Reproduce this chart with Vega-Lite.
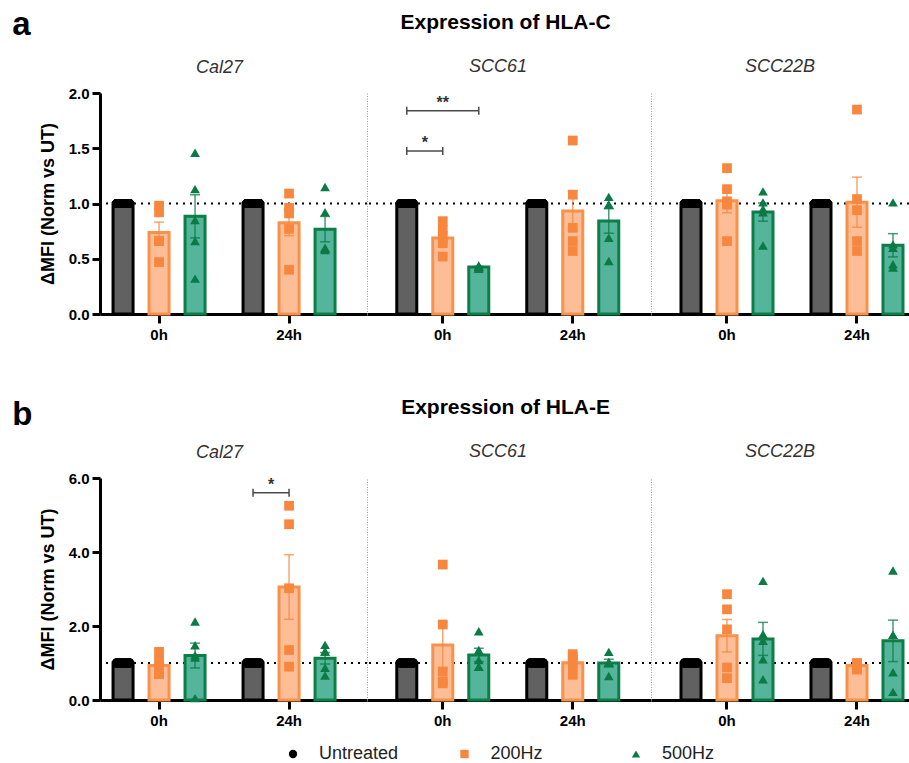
{
"$schema": "https://vega.github.io/schema/vega-lite/v6.json",
"padding": {"left": 12, "top": 9, "right": 0, "bottom": 0},
"datasets": {
"obs": [
{"marker":"HLA-C","cell":"Cal27","time":"0h","treatment":"Untreated","value":1},{"marker":"HLA-C","cell":"Cal27","time":"0h","treatment":"Untreated","value":1},{"marker":"HLA-C","cell":"Cal27","time":"0h","treatment":"Untreated","value":1},{"marker":"HLA-C","cell":"Cal27","time":"0h","treatment":"Untreated","value":1},{"marker":"HLA-C","cell":"Cal27","time":"0h","treatment":"Untreated","value":1},
{"marker":"HLA-C","cell":"Cal27","time":"0h","treatment":"200Hz","value":0.98},{"marker":"HLA-C","cell":"Cal27","time":"0h","treatment":"200Hz","value":0.92},{"marker":"HLA-C","cell":"Cal27","time":"0h","treatment":"200Hz","value":0.66},{"marker":"HLA-C","cell":"Cal27","time":"0h","treatment":"200Hz","value":0.66},{"marker":"HLA-C","cell":"Cal27","time":"0h","treatment":"200Hz","value":0.47},
{"marker":"HLA-C","cell":"Cal27","time":"0h","treatment":"500Hz","value":1.46},{"marker":"HLA-C","cell":"Cal27","time":"0h","treatment":"500Hz","value":1.13},{"marker":"HLA-C","cell":"Cal27","time":"0h","treatment":"500Hz","value":0.85},{"marker":"HLA-C","cell":"Cal27","time":"0h","treatment":"500Hz","value":0.66},{"marker":"HLA-C","cell":"Cal27","time":"0h","treatment":"500Hz","value":0.32},
{"marker":"HLA-C","cell":"Cal27","time":"24h","treatment":"Untreated","value":1},{"marker":"HLA-C","cell":"Cal27","time":"24h","treatment":"Untreated","value":1},{"marker":"HLA-C","cell":"Cal27","time":"24h","treatment":"Untreated","value":1},{"marker":"HLA-C","cell":"Cal27","time":"24h","treatment":"Untreated","value":1},{"marker":"HLA-C","cell":"Cal27","time":"24h","treatment":"Untreated","value":1},
{"marker":"HLA-C","cell":"Cal27","time":"24h","treatment":"200Hz","value":1.09},{"marker":"HLA-C","cell":"Cal27","time":"24h","treatment":"200Hz","value":0.96},{"marker":"HLA-C","cell":"Cal27","time":"24h","treatment":"200Hz","value":0.91},{"marker":"HLA-C","cell":"Cal27","time":"24h","treatment":"200Hz","value":0.77},{"marker":"HLA-C","cell":"Cal27","time":"24h","treatment":"200Hz","value":0.40},
{"marker":"HLA-C","cell":"Cal27","time":"24h","treatment":"500Hz","value":1.15},{"marker":"HLA-C","cell":"Cal27","time":"24h","treatment":"500Hz","value":0.92},{"marker":"HLA-C","cell":"Cal27","time":"24h","treatment":"500Hz","value":0.60},{"marker":"HLA-C","cell":"Cal27","time":"24h","treatment":"500Hz","value":0.59},{"marker":"HLA-C","cell":"Cal27","time":"24h","treatment":"500Hz","value":0.58},
{"marker":"HLA-C","cell":"SCC61","time":"0h","treatment":"Untreated","value":1},{"marker":"HLA-C","cell":"SCC61","time":"0h","treatment":"Untreated","value":1},{"marker":"HLA-C","cell":"SCC61","time":"0h","treatment":"Untreated","value":1},{"marker":"HLA-C","cell":"SCC61","time":"0h","treatment":"Untreated","value":1},{"marker":"HLA-C","cell":"SCC61","time":"0h","treatment":"Untreated","value":1},
{"marker":"HLA-C","cell":"SCC61","time":"0h","treatment":"200Hz","value":0.84},{"marker":"HLA-C","cell":"SCC61","time":"0h","treatment":"200Hz","value":0.76},{"marker":"HLA-C","cell":"SCC61","time":"0h","treatment":"200Hz","value":0.68},{"marker":"HLA-C","cell":"SCC61","time":"0h","treatment":"200Hz","value":0.64},{"marker":"HLA-C","cell":"SCC61","time":"0h","treatment":"200Hz","value":0.52},
{"marker":"HLA-C","cell":"SCC61","time":"0h","treatment":"500Hz","value":0.44},{"marker":"HLA-C","cell":"SCC61","time":"0h","treatment":"500Hz","value":0.43},{"marker":"HLA-C","cell":"SCC61","time":"0h","treatment":"500Hz","value":0.43},{"marker":"HLA-C","cell":"SCC61","time":"0h","treatment":"500Hz","value":0.42},{"marker":"HLA-C","cell":"SCC61","time":"0h","treatment":"500Hz","value":0.41},
{"marker":"HLA-C","cell":"SCC61","time":"24h","treatment":"Untreated","value":1},{"marker":"HLA-C","cell":"SCC61","time":"24h","treatment":"Untreated","value":1},{"marker":"HLA-C","cell":"SCC61","time":"24h","treatment":"Untreated","value":1},{"marker":"HLA-C","cell":"SCC61","time":"24h","treatment":"Untreated","value":1},{"marker":"HLA-C","cell":"SCC61","time":"24h","treatment":"Untreated","value":1},
{"marker":"HLA-C","cell":"SCC61","time":"24h","treatment":"200Hz","value":1.57},{"marker":"HLA-C","cell":"SCC61","time":"24h","treatment":"200Hz","value":1.08},{"marker":"HLA-C","cell":"SCC61","time":"24h","treatment":"200Hz","value":0.78},{"marker":"HLA-C","cell":"SCC61","time":"24h","treatment":"200Hz","value":0.66},{"marker":"HLA-C","cell":"SCC61","time":"24h","treatment":"200Hz","value":0.57},
{"marker":"HLA-C","cell":"SCC61","time":"24h","treatment":"500Hz","value":1.06},{"marker":"HLA-C","cell":"SCC61","time":"24h","treatment":"500Hz","value":0.99},{"marker":"HLA-C","cell":"SCC61","time":"24h","treatment":"500Hz","value":0.99},{"marker":"HLA-C","cell":"SCC61","time":"24h","treatment":"500Hz","value":0.69},{"marker":"HLA-C","cell":"SCC61","time":"24h","treatment":"500Hz","value":0.48},
{"marker":"HLA-C","cell":"SCC22B","time":"0h","treatment":"Untreated","value":1},{"marker":"HLA-C","cell":"SCC22B","time":"0h","treatment":"Untreated","value":1},{"marker":"HLA-C","cell":"SCC22B","time":"0h","treatment":"Untreated","value":1},{"marker":"HLA-C","cell":"SCC22B","time":"0h","treatment":"Untreated","value":1},{"marker":"HLA-C","cell":"SCC22B","time":"0h","treatment":"Untreated","value":1},
{"marker":"HLA-C","cell":"SCC22B","time":"0h","treatment":"200Hz","value":1.32},{"marker":"HLA-C","cell":"SCC22B","time":"0h","treatment":"200Hz","value":1.13},{"marker":"HLA-C","cell":"SCC22B","time":"0h","treatment":"200Hz","value":1.02},{"marker":"HLA-C","cell":"SCC22B","time":"0h","treatment":"200Hz","value":0.99},{"marker":"HLA-C","cell":"SCC22B","time":"0h","treatment":"200Hz","value":0.66},
{"marker":"HLA-C","cell":"SCC22B","time":"0h","treatment":"500Hz","value":1.11},{"marker":"HLA-C","cell":"SCC22B","time":"0h","treatment":"500Hz","value":1.01},{"marker":"HLA-C","cell":"SCC22B","time":"0h","treatment":"500Hz","value":0.95},{"marker":"HLA-C","cell":"SCC22B","time":"0h","treatment":"500Hz","value":0.92},{"marker":"HLA-C","cell":"SCC22B","time":"0h","treatment":"500Hz","value":0.62},
{"marker":"HLA-C","cell":"SCC22B","time":"24h","treatment":"Untreated","value":1},{"marker":"HLA-C","cell":"SCC22B","time":"24h","treatment":"Untreated","value":1},{"marker":"HLA-C","cell":"SCC22B","time":"24h","treatment":"Untreated","value":1},{"marker":"HLA-C","cell":"SCC22B","time":"24h","treatment":"Untreated","value":1},{"marker":"HLA-C","cell":"SCC22B","time":"24h","treatment":"Untreated","value":1},
{"marker":"HLA-C","cell":"SCC22B","time":"24h","treatment":"200Hz","value":1.85},{"marker":"HLA-C","cell":"SCC22B","time":"24h","treatment":"200Hz","value":1.04},{"marker":"HLA-C","cell":"SCC22B","time":"24h","treatment":"200Hz","value":0.94},{"marker":"HLA-C","cell":"SCC22B","time":"24h","treatment":"200Hz","value":0.66},{"marker":"HLA-C","cell":"SCC22B","time":"24h","treatment":"200Hz","value":0.57},
{"marker":"HLA-C","cell":"SCC22B","time":"24h","treatment":"500Hz","value":1.01},{"marker":"HLA-C","cell":"SCC22B","time":"24h","treatment":"500Hz","value":0.63},{"marker":"HLA-C","cell":"SCC22B","time":"24h","treatment":"500Hz","value":0.60},{"marker":"HLA-C","cell":"SCC22B","time":"24h","treatment":"500Hz","value":0.45},{"marker":"HLA-C","cell":"SCC22B","time":"24h","treatment":"500Hz","value":0.42},
{"marker":"HLA-E","cell":"Cal27","time":"0h","treatment":"Untreated","value":1},{"marker":"HLA-E","cell":"Cal27","time":"0h","treatment":"Untreated","value":1},{"marker":"HLA-E","cell":"Cal27","time":"0h","treatment":"Untreated","value":1},{"marker":"HLA-E","cell":"Cal27","time":"0h","treatment":"Untreated","value":1},{"marker":"HLA-E","cell":"Cal27","time":"0h","treatment":"Untreated","value":1},
{"marker":"HLA-E","cell":"Cal27","time":"0h","treatment":"200Hz","value":1.30},{"marker":"HLA-E","cell":"Cal27","time":"0h","treatment":"200Hz","value":1.08},{"marker":"HLA-E","cell":"Cal27","time":"0h","treatment":"200Hz","value":0.87},{"marker":"HLA-E","cell":"Cal27","time":"0h","treatment":"200Hz","value":0.70},{"marker":"HLA-E","cell":"Cal27","time":"0h","treatment":"200Hz","value":0.70},
{"marker":"HLA-E","cell":"Cal27","time":"0h","treatment":"500Hz","value":2.12},{"marker":"HLA-E","cell":"Cal27","time":"0h","treatment":"500Hz","value":1.48},{"marker":"HLA-E","cell":"Cal27","time":"0h","treatment":"500Hz","value":1.21},{"marker":"HLA-E","cell":"Cal27","time":"0h","treatment":"500Hz","value":1.15},{"marker":"HLA-E","cell":"Cal27","time":"0h","treatment":"500Hz","value":0.05},
{"marker":"HLA-E","cell":"Cal27","time":"24h","treatment":"Untreated","value":1},{"marker":"HLA-E","cell":"Cal27","time":"24h","treatment":"Untreated","value":1},{"marker":"HLA-E","cell":"Cal27","time":"24h","treatment":"Untreated","value":1},{"marker":"HLA-E","cell":"Cal27","time":"24h","treatment":"Untreated","value":1},{"marker":"HLA-E","cell":"Cal27","time":"24h","treatment":"Untreated","value":1},
{"marker":"HLA-E","cell":"Cal27","time":"24h","treatment":"200Hz","value":5.25},{"marker":"HLA-E","cell":"Cal27","time":"24h","treatment":"200Hz","value":4.75},{"marker":"HLA-E","cell":"Cal27","time":"24h","treatment":"200Hz","value":3.02},{"marker":"HLA-E","cell":"Cal27","time":"24h","treatment":"200Hz","value":1.35},{"marker":"HLA-E","cell":"Cal27","time":"24h","treatment":"200Hz","value":0.90},
{"marker":"HLA-E","cell":"Cal27","time":"24h","treatment":"500Hz","value":1.49},{"marker":"HLA-E","cell":"Cal27","time":"24h","treatment":"500Hz","value":1.31},{"marker":"HLA-E","cell":"Cal27","time":"24h","treatment":"500Hz","value":1.31},{"marker":"HLA-E","cell":"Cal27","time":"24h","treatment":"500Hz","value":0.87},{"marker":"HLA-E","cell":"Cal27","time":"24h","treatment":"500Hz","value":0.66},
{"marker":"HLA-E","cell":"SCC61","time":"0h","treatment":"Untreated","value":1},{"marker":"HLA-E","cell":"SCC61","time":"0h","treatment":"Untreated","value":1},{"marker":"HLA-E","cell":"SCC61","time":"0h","treatment":"Untreated","value":1},{"marker":"HLA-E","cell":"SCC61","time":"0h","treatment":"Untreated","value":1},{"marker":"HLA-E","cell":"SCC61","time":"0h","treatment":"Untreated","value":1},
{"marker":"HLA-E","cell":"SCC61","time":"0h","treatment":"200Hz","value":3.66},{"marker":"HLA-E","cell":"SCC61","time":"0h","treatment":"200Hz","value":2.04},{"marker":"HLA-E","cell":"SCC61","time":"0h","treatment":"200Hz","value":0.77},{"marker":"HLA-E","cell":"SCC61","time":"0h","treatment":"200Hz","value":0.50},{"marker":"HLA-E","cell":"SCC61","time":"0h","treatment":"200Hz","value":0.45},
{"marker":"HLA-E","cell":"SCC61","time":"0h","treatment":"500Hz","value":1.86},{"marker":"HLA-E","cell":"SCC61","time":"0h","treatment":"500Hz","value":1.35},{"marker":"HLA-E","cell":"SCC61","time":"0h","treatment":"500Hz","value":1.08},{"marker":"HLA-E","cell":"SCC61","time":"0h","treatment":"500Hz","value":0.90},{"marker":"HLA-E","cell":"SCC61","time":"0h","treatment":"500Hz","value":0.90},
{"marker":"HLA-E","cell":"SCC61","time":"24h","treatment":"Untreated","value":1},{"marker":"HLA-E","cell":"SCC61","time":"24h","treatment":"Untreated","value":1},{"marker":"HLA-E","cell":"SCC61","time":"24h","treatment":"Untreated","value":1},{"marker":"HLA-E","cell":"SCC61","time":"24h","treatment":"Untreated","value":1},{"marker":"HLA-E","cell":"SCC61","time":"24h","treatment":"Untreated","value":1},
{"marker":"HLA-E","cell":"SCC61","time":"24h","treatment":"200Hz","value":1.24},{"marker":"HLA-E","cell":"SCC61","time":"24h","treatment":"200Hz","value":1.14},{"marker":"HLA-E","cell":"SCC61","time":"24h","treatment":"200Hz","value":1.08},{"marker":"HLA-E","cell":"SCC61","time":"24h","treatment":"200Hz","value":0.90},{"marker":"HLA-E","cell":"SCC61","time":"24h","treatment":"200Hz","value":0.68},
{"marker":"HLA-E","cell":"SCC61","time":"24h","treatment":"500Hz","value":1.30},{"marker":"HLA-E","cell":"SCC61","time":"24h","treatment":"500Hz","value":1.02},{"marker":"HLA-E","cell":"SCC61","time":"24h","treatment":"500Hz","value":1.02},{"marker":"HLA-E","cell":"SCC61","time":"24h","treatment":"500Hz","value":1.00},{"marker":"HLA-E","cell":"SCC61","time":"24h","treatment":"500Hz","value":0.65},
{"marker":"HLA-E","cell":"SCC22B","time":"0h","treatment":"Untreated","value":1},{"marker":"HLA-E","cell":"SCC22B","time":"0h","treatment":"Untreated","value":1},{"marker":"HLA-E","cell":"SCC22B","time":"0h","treatment":"Untreated","value":1},{"marker":"HLA-E","cell":"SCC22B","time":"0h","treatment":"Untreated","value":1},{"marker":"HLA-E","cell":"SCC22B","time":"0h","treatment":"Untreated","value":1},
{"marker":"HLA-E","cell":"SCC22B","time":"0h","treatment":"200Hz","value":2.86},{"marker":"HLA-E","cell":"SCC22B","time":"0h","treatment":"200Hz","value":2.45},{"marker":"HLA-E","cell":"SCC22B","time":"0h","treatment":"200Hz","value":1.91},{"marker":"HLA-E","cell":"SCC22B","time":"0h","treatment":"200Hz","value":0.88},{"marker":"HLA-E","cell":"SCC22B","time":"0h","treatment":"200Hz","value":0.59},
{"marker":"HLA-E","cell":"SCC22B","time":"0h","treatment":"500Hz","value":3.22},{"marker":"HLA-E","cell":"SCC22B","time":"0h","treatment":"500Hz","value":1.78},{"marker":"HLA-E","cell":"SCC22B","time":"0h","treatment":"500Hz","value":1.60},{"marker":"HLA-E","cell":"SCC22B","time":"0h","treatment":"500Hz","value":1.10},{"marker":"HLA-E","cell":"SCC22B","time":"0h","treatment":"500Hz","value":0.56},
{"marker":"HLA-E","cell":"SCC22B","time":"24h","treatment":"Untreated","value":1},{"marker":"HLA-E","cell":"SCC22B","time":"24h","treatment":"Untreated","value":1},{"marker":"HLA-E","cell":"SCC22B","time":"24h","treatment":"Untreated","value":1},{"marker":"HLA-E","cell":"SCC22B","time":"24h","treatment":"Untreated","value":1},{"marker":"HLA-E","cell":"SCC22B","time":"24h","treatment":"Untreated","value":1},
{"marker":"HLA-E","cell":"SCC22B","time":"24h","treatment":"200Hz","value":1.00},{"marker":"HLA-E","cell":"SCC22B","time":"24h","treatment":"200Hz","value":0.98},{"marker":"HLA-E","cell":"SCC22B","time":"24h","treatment":"200Hz","value":0.95},{"marker":"HLA-E","cell":"SCC22B","time":"24h","treatment":"200Hz","value":0.90},{"marker":"HLA-E","cell":"SCC22B","time":"24h","treatment":"200Hz","value":0.82},
{"marker":"HLA-E","cell":"SCC22B","time":"24h","treatment":"500Hz","value":3.50},{"marker":"HLA-E","cell":"SCC22B","time":"24h","treatment":"500Hz","value":1.76},{"marker":"HLA-E","cell":"SCC22B","time":"24h","treatment":"500Hz","value":1.76},{"marker":"HLA-E","cell":"SCC22B","time":"24h","treatment":"500Hz","value":0.75},{"marker":"HLA-E","cell":"SCC22B","time":"24h","treatment":"500Hz","value":0.22}
],
"sig": [
{"marker":"HLA-C","cell":"SCC61","time":"0h","pair":"p1","treatment":"Untreated","value":1.84},
{"marker":"HLA-C","cell":"SCC61","time":"0h","pair":"p1","treatment":"500Hz","value":1.84},
{"marker":"HLA-C","cell":"SCC61","time":"0h","pair":"p2","treatment":"Untreated","value":1.475},
{"marker":"HLA-C","cell":"SCC61","time":"0h","pair":"p2","treatment":"200Hz","value":1.475},
{"marker":"HLA-E","cell":"Cal27","time":"24h","pair":"p3","treatment":"Untreated","value":5.6},
{"marker":"HLA-E","cell":"Cal27","time":"24h","pair":"p3","treatment":"200Hz","value":5.6}
],
"stars": [
{"marker":"HLA-C","cell":"SCC61","time":"0h","treatment":"200Hz","span":"wide","value":1.84,"label":"**"},
{"marker":"HLA-C","cell":"SCC61","time":"0h","treatment":"200Hz","span":"narrow","value":1.475,"label":"*"},
{"marker":"HLA-E","cell":"Cal27","time":"24h","treatment":"200Hz","span":"narrow","value":5.6,"label":"*"}
],
"legend": [
{"treatment":"Untreated"},{"treatment":"200Hz"},{"treatment":"500Hz"}
]
},
"config": {
"font": "Liberation Sans",
"view": {"stroke": null},
"axis": {"grid": false, "labelColor": "#000000", "titleColor": "#000000", "domainColor": "#000000", "tickColor": "#000000", "domainWidth": 3, "tickWidth": 3, "labelFontWeight": "bold", "labelFontSize": 15, "titleFontWeight": "bold", "titleFontSize": 18, "labelFont": "Liberation Sans", "titleFont": "Liberation Sans"},
"axisX": {"labelAngle": 0, "tickSize": 9, "labelPadding": 4},
"axisY": {"tickSize": 8, "labelPadding": 3, "titlePadding": 11},
"legend": {"disable": true}
},
"spacing": 55,
"vconcat": [
{
"title": {"text": "a", "anchor": "start", "frame": "bounds", "fontSize": 33, "fontWeight": "bold", "font": "Liberation Sans", "color": "#000000", "baseline": "bottom", "offset": 0, "dx": -27, "dy": 63},
"vconcat": [
{
"title": {"text": "Expression of HLA-C", "anchor": "middle", "frame": "bounds", "dx": 31, "fontSize": 21, "fontWeight": "bold", "font": "Liberation Sans", "color": "#000000", "baseline": "bottom", "offset": 4},
"spacing": 0,
"bounds": "flush",
"hconcat": [
{
"width": 267, "height": 221,
"title": {"text": "Cal27", "fontStyle": "italic", "fontWeight": "normal", "fontSize": 18, "font": "Liberation Sans", "color": "#333333", "offset": -9, "dx": -14, "baseline": "bottom", "anchor": "middle"},
"layer": [
{"data": {"values": [{"value": 1}]}, "mark": {"type": "rule", "strokeDash": [2, 5], "strokeWidth": 2, "color": "#000000"}, "encoding": {"y": {"field": "value", "type": "quantitative", "title": "ΔMFI (Norm vs UT)", "scale": {"domain": [0, 2], "nice": false}, "axis": {"values": [0, 0.5, 1, 1.5, 2], "format": ".1f", "title": "ΔMFI (Norm vs UT)"}}}},
{"data": {"name": "obs"}, "transform": [{"filter": "datum.marker == 'HLA-C' && datum.cell == 'Cal27'"}], "mark": {"type": "bar", "strokeWidth": 3}, "encoding": {"x": {"field": "time", "type": "nominal", "axis": {"title": null}, "scale": {"domain": ["0h", "24h"], "paddingInner": 0.2923, "paddingOuter": 0.173, "align": 0.29}}, "xOffset": {"field": "treatment", "type": "nominal", "scale": {"domain": ["Untreated", "200Hz", "500Hz"], "paddingInner": 0.444, "paddingOuter": 0}}, "y": {"aggregate": "mean", "field": "value", "type": "quantitative", "title": "ΔMFI (Norm vs UT)"}, "fill": {"field": "treatment", "type": "nominal", "scale": {"domain": ["Untreated", "200Hz", "500Hz"], "range": ["#616161", "#FDBE97", "#54B59B"]}, "legend": null}, "stroke": {"field": "treatment", "type": "nominal", "scale": {"domain": ["Untreated", "200Hz", "500Hz"], "range": ["#000000", "#F8914A", "#0D7E47"]}, "legend": null}}},
{"data": {"name": "obs"}, "transform": [{"filter": "datum.marker == 'HLA-C' && datum.cell == 'Cal27' && datum.treatment != 'Untreated'"}], "mark": {"type": "errorbar", "extent": "stderr", "ticks": {"size": 10, "thickness": 1.5, "opacity": 0.75}, "rule": {"strokeWidth": 1.5, "opacity": 0.75}}, "encoding": {"x": {"field": "time", "type": "nominal", "axis": {"title": null}, "scale": {"domain": ["0h", "24h"], "paddingInner": 0.2923, "paddingOuter": 0.173, "align": 0.29}}, "xOffset": {"field": "treatment", "type": "nominal", "scale": {"domain": ["Untreated", "200Hz", "500Hz"], "paddingInner": 0.444, "paddingOuter": 0}}, "y": {"field": "value", "type": "quantitative", "title": "ΔMFI (Norm vs UT)"}, "color": {"field": "treatment", "type": "nominal", "title": null}}},
{"data": {"name": "obs"}, "transform": [{"filter": "datum.marker == 'HLA-C' && datum.cell == 'Cal27' && datum.treatment != 'Untreated'"}], "mark": {"type": "point", "filled": true, "size": 95, "opacity": 1, "strokeWidth": 0}, "encoding": {"x": {"field": "time", "type": "nominal", "axis": {"title": null}, "scale": {"domain": ["0h", "24h"], "paddingInner": 0.2923, "paddingOuter": 0.173, "align": 0.29}}, "xOffset": {"field": "treatment", "type": "nominal", "scale": {"domain": ["Untreated", "200Hz", "500Hz"], "paddingInner": 0.444, "paddingOuter": 0}}, "y": {"field": "value", "type": "quantitative", "title": "ΔMFI (Norm vs UT)"}, "color": {"field": "treatment", "type": "nominal", "title": null, "scale": {"domain": ["Untreated", "200Hz", "500Hz"], "range": ["#000000", "#F7873F", "#0B7A45"]}}, "shape": {"field": "treatment", "type": "nominal", "title": null, "scale": {"domain": ["Untreated", "200Hz", "500Hz"], "range": ["circle", "square", "triangle-up"]}}}},
{"data": {"name": "obs"}, "transform": [{"filter": "datum.marker == 'HLA-C' && datum.cell == 'Cal27' && datum.treatment == 'Untreated'"}], "mark": {"type": "point", "filled": true, "size": 100, "opacity": 1, "color": "#000000", "shape": "M-1.3,-0.9L1.3,-0.9A0.9,0.9 0 0 1 1.3,0.9L-1.3,0.9A0.9,0.9 0 0 1 -1.3,-0.9Z"}, "encoding": {"x": {"field": "time", "type": "nominal", "axis": {"title": null}, "scale": {"domain": ["0h", "24h"], "paddingInner": 0.2923, "paddingOuter": 0.173, "align": 0.29}}, "xOffset": {"field": "treatment", "type": "nominal", "scale": {"domain": ["Untreated", "200Hz", "500Hz"], "paddingInner": 0.444, "paddingOuter": 0}}, "y": {"field": "value", "type": "quantitative", "title": "ΔMFI (Norm vs UT)"}}}
]
},
{
"width": 284, "height": 221,
"title": {"text": "SCC61", "fontStyle": "italic", "fontWeight": "normal", "fontSize": 18, "font": "Liberation Sans", "color": "#333333", "offset": -1, "dx": -11, "baseline": "bottom", "anchor": "middle"},
"layer": [
{"data": {"values": [{"value": 1}]}, "mark": {"type": "rule", "strokeDash": [2, 5], "strokeWidth": 2, "color": "#000000"}, "encoding": {"y": {"field": "value", "type": "quantitative", "scale": {"domain": [0, 2], "nice": false}, "axis": {"labels": false, "ticks": false, "title": null, "domainColor": "#9e9e9e", "domainWidth": 1, "domainDash": [1, 1.5]}}}},
{"data": {"name": "obs"}, "transform": [{"filter": "datum.marker == 'HLA-C' && datum.cell == 'SCC61'"}], "mark": {"type": "bar", "strokeWidth": 3}, "encoding": {"x": {"field": "time", "type": "nominal", "axis": {"title": null}, "scale": {"domain": ["0h", "24h"], "paddingInner": 0.2923, "paddingOuter": 0.2385, "align": 0.48}}, "xOffset": {"field": "treatment", "type": "nominal", "scale": {"domain": ["Untreated", "200Hz", "500Hz"], "paddingInner": 0.444, "paddingOuter": 0}}, "y": {"aggregate": "mean", "field": "value", "type": "quantitative"}, "fill": {"field": "treatment", "type": "nominal", "scale": {"domain": ["Untreated", "200Hz", "500Hz"], "range": ["#616161", "#FDBE97", "#54B59B"]}, "legend": null}, "stroke": {"field": "treatment", "type": "nominal", "scale": {"domain": ["Untreated", "200Hz", "500Hz"], "range": ["#000000", "#F8914A", "#0D7E47"]}, "legend": null}}},
{"data": {"name": "obs"}, "transform": [{"filter": "datum.marker == 'HLA-C' && datum.cell == 'SCC61' && datum.treatment != 'Untreated'"}], "mark": {"type": "errorbar", "extent": "stderr", "ticks": {"size": 10, "thickness": 1.5, "opacity": 0.75}, "rule": {"strokeWidth": 1.5, "opacity": 0.75}}, "encoding": {"x": {"field": "time", "type": "nominal", "axis": {"title": null}, "scale": {"domain": ["0h", "24h"], "paddingInner": 0.2923, "paddingOuter": 0.2385, "align": 0.48}}, "xOffset": {"field": "treatment", "type": "nominal", "scale": {"domain": ["Untreated", "200Hz", "500Hz"], "paddingInner": 0.444, "paddingOuter": 0}}, "y": {"field": "value", "type": "quantitative"}, "color": {"field": "treatment", "type": "nominal", "title": null}}},
{"data": {"name": "obs"}, "transform": [{"filter": "datum.marker == 'HLA-C' && datum.cell == 'SCC61' && datum.treatment != 'Untreated'"}], "mark": {"type": "point", "filled": true, "size": 95, "opacity": 1, "strokeWidth": 0}, "encoding": {"x": {"field": "time", "type": "nominal", "axis": {"title": null}, "scale": {"domain": ["0h", "24h"], "paddingInner": 0.2923, "paddingOuter": 0.2385, "align": 0.48}}, "xOffset": {"field": "treatment", "type": "nominal", "scale": {"domain": ["Untreated", "200Hz", "500Hz"], "paddingInner": 0.444, "paddingOuter": 0}}, "y": {"field": "value", "type": "quantitative"}, "color": {"field": "treatment", "type": "nominal", "title": null}, "shape": {"field": "treatment", "type": "nominal", "title": null}}},
{"data": {"name": "obs"}, "transform": [{"filter": "datum.marker == 'HLA-C' && datum.cell == 'SCC61' && datum.treatment == 'Untreated'"}], "mark": {"type": "point", "filled": true, "size": 100, "opacity": 1, "color": "#000000", "shape": "M-1.3,-0.9L1.3,-0.9A0.9,0.9 0 0 1 1.3,0.9L-1.3,0.9A0.9,0.9 0 0 1 -1.3,-0.9Z"}, "encoding": {"x": {"field": "time", "type": "nominal", "axis": {"title": null}, "scale": {"domain": ["0h", "24h"], "paddingInner": 0.2923, "paddingOuter": 0.2385, "align": 0.48}}, "xOffset": {"field": "treatment", "type": "nominal", "scale": {"domain": ["Untreated", "200Hz", "500Hz"], "paddingInner": 0.444, "paddingOuter": 0}}, "y": {"field": "value", "type": "quantitative"}}},
{"data": {"name": "sig"}, "transform": [{"filter": "datum.marker == 'HLA-C' && datum.cell == 'SCC61'"}], "mark": {"type": "line", "color": "#4a4a4a", "strokeWidth": 1.5}, "encoding": {"x": {"field": "time", "type": "nominal", "axis": {"title": null}, "scale": {"domain": ["0h", "24h"], "paddingInner": 0.2923, "paddingOuter": 0.2385, "align": 0.48}}, "xOffset": {"field": "treatment", "type": "nominal", "scale": {"domain": ["Untreated", "200Hz", "500Hz"], "paddingInner": 0.444, "paddingOuter": 0}}, "y": {"field": "value", "type": "quantitative"}, "detail": {"field": "pair", "type": "nominal"}}},
{"data": {"name": "sig"}, "transform": [{"filter": "datum.marker == 'HLA-C' && datum.cell == 'SCC61'"}], "mark": {"type": "point", "shape": "M0,-1L0,1", "size": 64, "strokeWidth": 1.5, "color": "#4a4a4a", "filled": false, "opacity": 1}, "encoding": {"x": {"field": "time", "type": "nominal", "axis": {"title": null}, "scale": {"domain": ["0h", "24h"], "paddingInner": 0.2923, "paddingOuter": 0.2385, "align": 0.48}}, "xOffset": {"field": "treatment", "type": "nominal", "scale": {"domain": ["Untreated", "200Hz", "500Hz"], "paddingInner": 0.444, "paddingOuter": 0}}, "y": {"field": "value", "type": "quantitative"}}},
{"data": {"name": "stars"}, "transform": [{"filter": "datum.marker == 'HLA-C' && datum.cell == 'SCC61' && datum.span == 'wide'"}], "mark": {"type": "text", "fontSize": 16, "fontWeight": "bold", "baseline": "alphabetic", "dy": -3, "color": "#333333"}, "encoding": {"x": {"field": "time", "type": "nominal", "axis": {"title": null}, "scale": {"domain": ["0h", "24h"], "paddingInner": 0.2923, "paddingOuter": 0.2385, "align": 0.48}}, "xOffset": {"field": "treatment", "type": "nominal", "scale": {"domain": ["Untreated", "200Hz", "500Hz"], "paddingInner": 0.444, "paddingOuter": 0}}, "y": {"field": "value", "type": "quantitative"}, "text": {"field": "label", "type": "nominal"}}},
{"data": {"name": "stars"}, "transform": [{"filter": "datum.marker == 'HLA-C' && datum.cell == 'SCC61' && datum.span == 'narrow'"}], "mark": {"type": "text", "fontSize": 16, "fontWeight": "bold", "baseline": "alphabetic", "dy": -3, "dx": -18, "color": "#333333"}, "encoding": {"x": {"field": "time", "type": "nominal", "axis": {"title": null}, "scale": {"domain": ["0h", "24h"], "paddingInner": 0.2923, "paddingOuter": 0.2385, "align": 0.48}}, "xOffset": {"field": "treatment", "type": "nominal", "scale": {"domain": ["Untreated", "200Hz", "500Hz"], "paddingInner": 0.444, "paddingOuter": 0}}, "y": {"field": "value", "type": "quantitative"}, "text": {"field": "label", "type": "nominal"}}}
]
},
{
"width": 258, "height": 221,
"title": {"text": "SCC22B", "fontStyle": "italic", "fontWeight": "normal", "fontSize": 18, "font": "Liberation Sans", "color": "#333333", "offset": -1, "dx": 0, "baseline": "bottom", "anchor": "middle"},
"layer": [
{"data": {"values": [{"value": 1}]}, "mark": {"type": "rule", "strokeDash": [2, 5], "strokeWidth": 2, "color": "#000000"}, "encoding": {"y": {"field": "value", "type": "quantitative", "scale": {"domain": [0, 2], "nice": false}, "axis": {"labels": false, "ticks": false, "title": null, "domainColor": "#9e9e9e", "domainWidth": 1, "domainDash": [1, 1.5]}}}},
{"data": {"name": "obs"}, "transform": [{"filter": "datum.marker == 'HLA-C' && datum.cell == 'SCC22B'"}], "mark": {"type": "bar", "strokeWidth": 3}, "encoding": {"x": {"field": "time", "type": "nominal", "axis": {"title": null}, "scale": {"domain": ["0h", "24h"], "paddingInner": 0.2923, "paddingOuter": 0.1385, "align": 0.833}}, "xOffset": {"field": "treatment", "type": "nominal", "scale": {"domain": ["Untreated", "200Hz", "500Hz"], "paddingInner": 0.444, "paddingOuter": 0}}, "y": {"aggregate": "mean", "field": "value", "type": "quantitative"}, "fill": {"field": "treatment", "type": "nominal", "scale": {"domain": ["Untreated", "200Hz", "500Hz"], "range": ["#616161", "#FDBE97", "#54B59B"]}, "legend": null}, "stroke": {"field": "treatment", "type": "nominal", "scale": {"domain": ["Untreated", "200Hz", "500Hz"], "range": ["#000000", "#F8914A", "#0D7E47"]}, "legend": null}}},
{"data": {"name": "obs"}, "transform": [{"filter": "datum.marker == 'HLA-C' && datum.cell == 'SCC22B' && datum.treatment != 'Untreated'"}], "mark": {"type": "errorbar", "extent": "stderr", "ticks": {"size": 10, "thickness": 1.5, "opacity": 0.75}, "rule": {"strokeWidth": 1.5, "opacity": 0.75}}, "encoding": {"x": {"field": "time", "type": "nominal", "axis": {"title": null}, "scale": {"domain": ["0h", "24h"], "paddingInner": 0.2923, "paddingOuter": 0.1385, "align": 0.833}}, "xOffset": {"field": "treatment", "type": "nominal", "scale": {"domain": ["Untreated", "200Hz", "500Hz"], "paddingInner": 0.444, "paddingOuter": 0}}, "y": {"field": "value", "type": "quantitative"}, "color": {"field": "treatment", "type": "nominal", "title": null}}},
{"data": {"name": "obs"}, "transform": [{"filter": "datum.marker == 'HLA-C' && datum.cell == 'SCC22B' && datum.treatment != 'Untreated'"}], "mark": {"type": "point", "filled": true, "size": 95, "opacity": 1, "strokeWidth": 0}, "encoding": {"x": {"field": "time", "type": "nominal", "axis": {"title": null}, "scale": {"domain": ["0h", "24h"], "paddingInner": 0.2923, "paddingOuter": 0.1385, "align": 0.833}}, "xOffset": {"field": "treatment", "type": "nominal", "scale": {"domain": ["Untreated", "200Hz", "500Hz"], "paddingInner": 0.444, "paddingOuter": 0}}, "y": {"field": "value", "type": "quantitative"}, "color": {"field": "treatment", "type": "nominal", "title": null}, "shape": {"field": "treatment", "type": "nominal", "title": null}}},
{"data": {"name": "obs"}, "transform": [{"filter": "datum.marker == 'HLA-C' && datum.cell == 'SCC22B' && datum.treatment == 'Untreated'"}], "mark": {"type": "point", "filled": true, "size": 100, "opacity": 1, "color": "#000000", "shape": "M-1.3,-0.9L1.3,-0.9A0.9,0.9 0 0 1 1.3,0.9L-1.3,0.9A0.9,0.9 0 0 1 -1.3,-0.9Z"}, "encoding": {"x": {"field": "time", "type": "nominal", "axis": {"title": null}, "scale": {"domain": ["0h", "24h"], "paddingInner": 0.2923, "paddingOuter": 0.1385, "align": 0.833}}, "xOffset": {"field": "treatment", "type": "nominal", "scale": {"domain": ["Untreated", "200Hz", "500Hz"], "paddingInner": 0.444, "paddingOuter": 0}}, "y": {"field": "value", "type": "quantitative"}}}
]
}
]
}
]
},
{
"spacing": 17,
"vconcat": [
{
"title": {"text": "b", "anchor": "start", "frame": "bounds", "fontSize": 33, "fontWeight": "bold", "font": "Liberation Sans", "color": "#000000", "baseline": "bottom", "offset": 0, "dx": -27, "dy": 68},
"vconcat": [
{
"title": {"text": "Expression of HLA-E", "anchor": "middle", "frame": "bounds", "dx": 31, "fontSize": 21, "fontWeight": "bold", "font": "Liberation Sans", "color": "#000000", "baseline": "bottom", "offset": 4},
"spacing": 0,
"bounds": "flush",
"hconcat": [
{
"width": 267, "height": 222,
"title": {"text": "Cal27", "fontStyle": "italic", "fontWeight": "normal", "fontSize": 18, "font": "Liberation Sans", "color": "#333333", "offset": -9, "dx": -14, "baseline": "bottom", "anchor": "middle"},
"layer": [
{"data": {"values": [{"value": 1}]}, "mark": {"type": "rule", "strokeDash": [2, 5], "strokeWidth": 2, "color": "#000000"}, "encoding": {"y": {"field": "value", "type": "quantitative", "title": "ΔMFI (Norm vs UT)", "scale": {"domain": [0, 6], "nice": false}, "axis": {"values": [0, 2, 4, 6], "format": ".1f", "title": "ΔMFI (Norm vs UT)"}}}},
{"data": {"name": "obs"}, "transform": [{"filter": "datum.marker == 'HLA-E' && datum.cell == 'Cal27'"}], "mark": {"type": "bar", "strokeWidth": 3}, "encoding": {"x": {"field": "time", "type": "nominal", "axis": {"title": null}, "scale": {"domain": ["0h", "24h"], "paddingInner": 0.2923, "paddingOuter": 0.173, "align": 0.29}}, "xOffset": {"field": "treatment", "type": "nominal", "scale": {"domain": ["Untreated", "200Hz", "500Hz"], "paddingInner": 0.444, "paddingOuter": 0}}, "y": {"aggregate": "mean", "field": "value", "type": "quantitative", "title": "ΔMFI (Norm vs UT)"}, "fill": {"field": "treatment", "type": "nominal", "scale": {"domain": ["Untreated", "200Hz", "500Hz"], "range": ["#616161", "#FDBE97", "#54B59B"]}, "legend": null}, "stroke": {"field": "treatment", "type": "nominal", "scale": {"domain": ["Untreated", "200Hz", "500Hz"], "range": ["#000000", "#F8914A", "#0D7E47"]}, "legend": null}}},
{"data": {"name": "obs"}, "transform": [{"filter": "datum.marker == 'HLA-E' && datum.cell == 'Cal27' && datum.treatment != 'Untreated'"}], "mark": {"type": "errorbar", "extent": "stderr", "ticks": {"size": 10, "thickness": 1.5, "opacity": 0.75}, "rule": {"strokeWidth": 1.5, "opacity": 0.75}}, "encoding": {"x": {"field": "time", "type": "nominal", "axis": {"title": null}, "scale": {"domain": ["0h", "24h"], "paddingInner": 0.2923, "paddingOuter": 0.173, "align": 0.29}}, "xOffset": {"field": "treatment", "type": "nominal", "scale": {"domain": ["Untreated", "200Hz", "500Hz"], "paddingInner": 0.444, "paddingOuter": 0}}, "y": {"field": "value", "type": "quantitative", "title": "ΔMFI (Norm vs UT)"}, "color": {"field": "treatment", "type": "nominal", "title": null}}},
{"data": {"name": "obs"}, "transform": [{"filter": "datum.marker == 'HLA-E' && datum.cell == 'Cal27' && datum.treatment != 'Untreated'"}], "mark": {"type": "point", "filled": true, "size": 95, "opacity": 1, "strokeWidth": 0}, "encoding": {"x": {"field": "time", "type": "nominal", "axis": {"title": null}, "scale": {"domain": ["0h", "24h"], "paddingInner": 0.2923, "paddingOuter": 0.173, "align": 0.29}}, "xOffset": {"field": "treatment", "type": "nominal", "scale": {"domain": ["Untreated", "200Hz", "500Hz"], "paddingInner": 0.444, "paddingOuter": 0}}, "y": {"field": "value", "type": "quantitative", "title": "ΔMFI (Norm vs UT)"}, "color": {"field": "treatment", "type": "nominal", "title": null}, "shape": {"field": "treatment", "type": "nominal", "title": null}}},
{"data": {"name": "obs"}, "transform": [{"filter": "datum.marker == 'HLA-E' && datum.cell == 'Cal27' && datum.treatment == 'Untreated'"}], "mark": {"type": "point", "filled": true, "size": 100, "opacity": 1, "color": "#000000", "shape": "M-1.3,-0.9L1.3,-0.9A0.9,0.9 0 0 1 1.3,0.9L-1.3,0.9A0.9,0.9 0 0 1 -1.3,-0.9Z"}, "encoding": {"x": {"field": "time", "type": "nominal", "axis": {"title": null}, "scale": {"domain": ["0h", "24h"], "paddingInner": 0.2923, "paddingOuter": 0.173, "align": 0.29}}, "xOffset": {"field": "treatment", "type": "nominal", "scale": {"domain": ["Untreated", "200Hz", "500Hz"], "paddingInner": 0.444, "paddingOuter": 0}}, "y": {"field": "value", "type": "quantitative", "title": "ΔMFI (Norm vs UT)"}}},
{"data": {"name": "sig"}, "transform": [{"filter": "datum.marker == 'HLA-E' && datum.cell == 'Cal27'"}], "mark": {"type": "line", "color": "#4a4a4a", "strokeWidth": 1.5}, "encoding": {"x": {"field": "time", "type": "nominal", "axis": {"title": null}, "scale": {"domain": ["0h", "24h"], "paddingInner": 0.2923, "paddingOuter": 0.173, "align": 0.29}}, "xOffset": {"field": "treatment", "type": "nominal", "scale": {"domain": ["Untreated", "200Hz", "500Hz"], "paddingInner": 0.444, "paddingOuter": 0}}, "y": {"field": "value", "type": "quantitative", "title": "ΔMFI (Norm vs UT)"}, "detail": {"field": "pair", "type": "nominal"}}},
{"data": {"name": "sig"}, "transform": [{"filter": "datum.marker == 'HLA-E' && datum.cell == 'Cal27'"}], "mark": {"type": "point", "shape": "M0,-1L0,1", "size": 64, "strokeWidth": 1.5, "color": "#4a4a4a", "filled": false, "opacity": 1}, "encoding": {"x": {"field": "time", "type": "nominal", "axis": {"title": null}, "scale": {"domain": ["0h", "24h"], "paddingInner": 0.2923, "paddingOuter": 0.173, "align": 0.29}}, "xOffset": {"field": "treatment", "type": "nominal", "scale": {"domain": ["Untreated", "200Hz", "500Hz"], "paddingInner": 0.444, "paddingOuter": 0}}, "y": {"field": "value", "type": "quantitative", "title": "ΔMFI (Norm vs UT)"}}},
{"data": {"name": "stars"}, "transform": [{"filter": "datum.marker == 'HLA-E' && datum.cell == 'Cal27' && datum.span == 'narrow'"}], "mark": {"type": "text", "fontSize": 16, "fontWeight": "bold", "baseline": "alphabetic", "dy": -3, "dx": -18, "color": "#333333"}, "encoding": {"x": {"field": "time", "type": "nominal", "axis": {"title": null}, "scale": {"domain": ["0h", "24h"], "paddingInner": 0.2923, "paddingOuter": 0.173, "align": 0.29}}, "xOffset": {"field": "treatment", "type": "nominal", "scale": {"domain": ["Untreated", "200Hz", "500Hz"], "paddingInner": 0.444, "paddingOuter": 0}}, "y": {"field": "value", "type": "quantitative", "title": "ΔMFI (Norm vs UT)"}, "text": {"field": "label", "type": "nominal"}}}
]
},
{
"width": 284, "height": 222,
"title": {"text": "SCC61", "fontStyle": "italic", "fontWeight": "normal", "fontSize": 18, "font": "Liberation Sans", "color": "#333333", "offset": -1, "dx": -11, "baseline": "bottom", "anchor": "middle"},
"layer": [
{"data": {"values": [{"value": 1}]}, "mark": {"type": "rule", "strokeDash": [2, 5], "strokeWidth": 2, "color": "#000000"}, "encoding": {"y": {"field": "value", "type": "quantitative", "scale": {"domain": [0, 6], "nice": false}, "axis": {"labels": false, "ticks": false, "title": null, "domainColor": "#9e9e9e", "domainWidth": 1, "domainDash": [1, 1.5]}}}},
{"data": {"name": "obs"}, "transform": [{"filter": "datum.marker == 'HLA-E' && datum.cell == 'SCC61'"}], "mark": {"type": "bar", "strokeWidth": 3}, "encoding": {"x": {"field": "time", "type": "nominal", "axis": {"title": null}, "scale": {"domain": ["0h", "24h"], "paddingInner": 0.2923, "paddingOuter": 0.2385, "align": 0.48}}, "xOffset": {"field": "treatment", "type": "nominal", "scale": {"domain": ["Untreated", "200Hz", "500Hz"], "paddingInner": 0.444, "paddingOuter": 0}}, "y": {"aggregate": "mean", "field": "value", "type": "quantitative"}, "fill": {"field": "treatment", "type": "nominal", "scale": {"domain": ["Untreated", "200Hz", "500Hz"], "range": ["#616161", "#FDBE97", "#54B59B"]}, "legend": null}, "stroke": {"field": "treatment", "type": "nominal", "scale": {"domain": ["Untreated", "200Hz", "500Hz"], "range": ["#000000", "#F8914A", "#0D7E47"]}, "legend": null}}},
{"data": {"name": "obs"}, "transform": [{"filter": "datum.marker == 'HLA-E' && datum.cell == 'SCC61' && datum.treatment != 'Untreated'"}], "mark": {"type": "errorbar", "extent": "stderr", "ticks": {"size": 10, "thickness": 1.5, "opacity": 0.75}, "rule": {"strokeWidth": 1.5, "opacity": 0.75}}, "encoding": {"x": {"field": "time", "type": "nominal", "axis": {"title": null}, "scale": {"domain": ["0h", "24h"], "paddingInner": 0.2923, "paddingOuter": 0.2385, "align": 0.48}}, "xOffset": {"field": "treatment", "type": "nominal", "scale": {"domain": ["Untreated", "200Hz", "500Hz"], "paddingInner": 0.444, "paddingOuter": 0}}, "y": {"field": "value", "type": "quantitative"}, "color": {"field": "treatment", "type": "nominal", "title": null}}},
{"data": {"name": "obs"}, "transform": [{"filter": "datum.marker == 'HLA-E' && datum.cell == 'SCC61' && datum.treatment != 'Untreated'"}], "mark": {"type": "point", "filled": true, "size": 95, "opacity": 1, "strokeWidth": 0}, "encoding": {"x": {"field": "time", "type": "nominal", "axis": {"title": null}, "scale": {"domain": ["0h", "24h"], "paddingInner": 0.2923, "paddingOuter": 0.2385, "align": 0.48}}, "xOffset": {"field": "treatment", "type": "nominal", "scale": {"domain": ["Untreated", "200Hz", "500Hz"], "paddingInner": 0.444, "paddingOuter": 0}}, "y": {"field": "value", "type": "quantitative"}, "color": {"field": "treatment", "type": "nominal", "title": null}, "shape": {"field": "treatment", "type": "nominal", "title": null}}},
{"data": {"name": "obs"}, "transform": [{"filter": "datum.marker == 'HLA-E' && datum.cell == 'SCC61' && datum.treatment == 'Untreated'"}], "mark": {"type": "point", "filled": true, "size": 100, "opacity": 1, "color": "#000000", "shape": "M-1.3,-0.9L1.3,-0.9A0.9,0.9 0 0 1 1.3,0.9L-1.3,0.9A0.9,0.9 0 0 1 -1.3,-0.9Z"}, "encoding": {"x": {"field": "time", "type": "nominal", "axis": {"title": null}, "scale": {"domain": ["0h", "24h"], "paddingInner": 0.2923, "paddingOuter": 0.2385, "align": 0.48}}, "xOffset": {"field": "treatment", "type": "nominal", "scale": {"domain": ["Untreated", "200Hz", "500Hz"], "paddingInner": 0.444, "paddingOuter": 0}}, "y": {"field": "value", "type": "quantitative"}}}
]
},
{
"width": 258, "height": 222,
"title": {"text": "SCC22B", "fontStyle": "italic", "fontWeight": "normal", "fontSize": 18, "font": "Liberation Sans", "color": "#333333", "offset": -1, "dx": 0, "baseline": "bottom", "anchor": "middle"},
"layer": [
{"data": {"values": [{"value": 1}]}, "mark": {"type": "rule", "strokeDash": [2, 5], "strokeWidth": 2, "color": "#000000"}, "encoding": {"y": {"field": "value", "type": "quantitative", "scale": {"domain": [0, 6], "nice": false}, "axis": {"labels": false, "ticks": false, "title": null, "domainColor": "#9e9e9e", "domainWidth": 1, "domainDash": [1, 1.5]}}}},
{"data": {"name": "obs"}, "transform": [{"filter": "datum.marker == 'HLA-E' && datum.cell == 'SCC22B'"}], "mark": {"type": "bar", "strokeWidth": 3}, "encoding": {"x": {"field": "time", "type": "nominal", "axis": {"title": null}, "scale": {"domain": ["0h", "24h"], "paddingInner": 0.2923, "paddingOuter": 0.1385, "align": 0.833}}, "xOffset": {"field": "treatment", "type": "nominal", "scale": {"domain": ["Untreated", "200Hz", "500Hz"], "paddingInner": 0.444, "paddingOuter": 0}}, "y": {"aggregate": "mean", "field": "value", "type": "quantitative"}, "fill": {"field": "treatment", "type": "nominal", "scale": {"domain": ["Untreated", "200Hz", "500Hz"], "range": ["#616161", "#FDBE97", "#54B59B"]}, "legend": null}, "stroke": {"field": "treatment", "type": "nominal", "scale": {"domain": ["Untreated", "200Hz", "500Hz"], "range": ["#000000", "#F8914A", "#0D7E47"]}, "legend": null}}},
{"data": {"name": "obs"}, "transform": [{"filter": "datum.marker == 'HLA-E' && datum.cell == 'SCC22B' && datum.treatment != 'Untreated'"}], "mark": {"type": "errorbar", "extent": "stderr", "ticks": {"size": 10, "thickness": 1.5, "opacity": 0.75}, "rule": {"strokeWidth": 1.5, "opacity": 0.75}}, "encoding": {"x": {"field": "time", "type": "nominal", "axis": {"title": null}, "scale": {"domain": ["0h", "24h"], "paddingInner": 0.2923, "paddingOuter": 0.1385, "align": 0.833}}, "xOffset": {"field": "treatment", "type": "nominal", "scale": {"domain": ["Untreated", "200Hz", "500Hz"], "paddingInner": 0.444, "paddingOuter": 0}}, "y": {"field": "value", "type": "quantitative"}, "color": {"field": "treatment", "type": "nominal", "title": null}}},
{"data": {"name": "obs"}, "transform": [{"filter": "datum.marker == 'HLA-E' && datum.cell == 'SCC22B' && datum.treatment != 'Untreated'"}], "mark": {"type": "point", "filled": true, "size": 95, "opacity": 1, "strokeWidth": 0}, "encoding": {"x": {"field": "time", "type": "nominal", "axis": {"title": null}, "scale": {"domain": ["0h", "24h"], "paddingInner": 0.2923, "paddingOuter": 0.1385, "align": 0.833}}, "xOffset": {"field": "treatment", "type": "nominal", "scale": {"domain": ["Untreated", "200Hz", "500Hz"], "paddingInner": 0.444, "paddingOuter": 0}}, "y": {"field": "value", "type": "quantitative"}, "color": {"field": "treatment", "type": "nominal", "title": null}, "shape": {"field": "treatment", "type": "nominal", "title": null}}},
{"data": {"name": "obs"}, "transform": [{"filter": "datum.marker == 'HLA-E' && datum.cell == 'SCC22B' && datum.treatment == 'Untreated'"}], "mark": {"type": "point", "filled": true, "size": 100, "opacity": 1, "color": "#000000", "shape": "M-1.3,-0.9L1.3,-0.9A0.9,0.9 0 0 1 1.3,0.9L-1.3,0.9A0.9,0.9 0 0 1 -1.3,-0.9Z"}, "encoding": {"x": {"field": "time", "type": "nominal", "axis": {"title": null}, "scale": {"domain": ["0h", "24h"], "paddingInner": 0.2923, "paddingOuter": 0.1385, "align": 0.833}}, "xOffset": {"field": "treatment", "type": "nominal", "scale": {"domain": ["Untreated", "200Hz", "500Hz"], "paddingInner": 0.444, "paddingOuter": 0}}, "y": {"field": "value", "type": "quantitative"}}}
]
}
]
}
]
},
{
"width": 897, "height": 18,
"data": {"name": "legend"},
"encoding": {"x": {"field": "treatment", "type": "nominal", "scale": {"type": "point", "domain": ["Untreated", "200Hz", "500Hz"], "range": [193, 536], "padding": 0}, "axis": {"domain": true, "domainColor": "#ffffff", "domainOpacity": 1, "domainWidth": 1, "ticks": false, "labels": false, "title": null, "grid": false}}},
"layer": [
{"mark": {"type": "point", "filled": true, "size": 70, "opacity": 1, "strokeWidth": 0}, "encoding": {"color": {"field": "treatment", "type": "nominal", "title": null, "legend": null}, "shape": {"field": "treatment", "type": "nominal", "title": null, "legend": null}}},
{"mark": {"type": "text", "align": "left", "baseline": "middle", "dx": 26, "fontSize": 18, "font": "Liberation Sans", "fontWeight": "normal", "color": "#222222"}, "encoding": {"text": {"field": "treatment", "type": "nominal"}}}
]
}
]
}
]
}
